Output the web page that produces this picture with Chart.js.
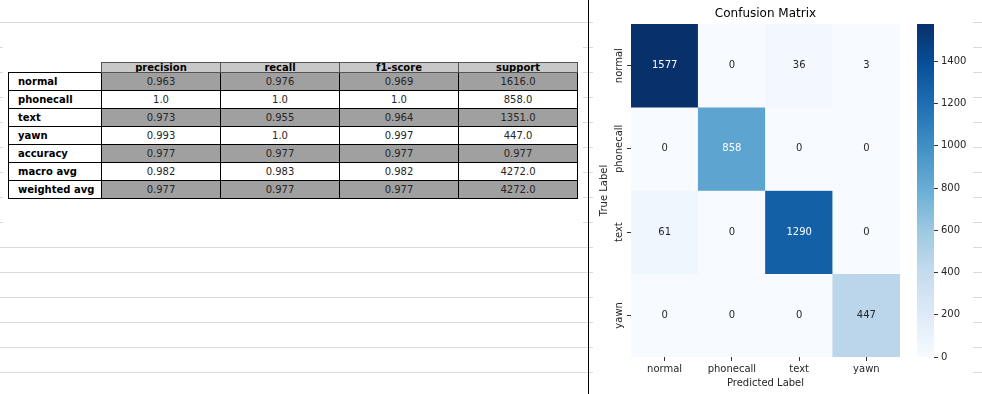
<!DOCTYPE html>
<html>
<head>
<meta charset="utf-8">
<script src="https://cdn.jsdelivr.net/npm/chart.js@4.4.0/dist/chart.umd.min.js"></script>
<style>
  html, body { margin: 0; padding: 0; }
  body {
    width: 982px; height: 394px; position: relative; overflow: hidden;
    background: repeating-linear-gradient(to bottom, #fff 0px, #fff 22px, #d9d9d9 22px, #d9d9d9 23px, #fff 23px, #fff 25px);
    font-family: 'DejaVu Sans', sans-serif;
  }
  .panel { position: absolute; background: #fff; }
  #leftPanel { left: 3px; top: 30px; width: 580px; height: 210px; }
  #rightPanel { left: 593px; top: 0; width: 380px; height: 394px; }
  #divider { position: absolute; left: 588px; top: 0; width: 1px; height: 394px; background: #000; }
  #report {
    position: absolute; left: 8px; top: 62px; width: 570px;
    border-collapse: collapse; table-layout: fixed;
    font-size: 10px; color: #262626;
  }
  #report th {
    height: 9px; line-height: 9px; padding: 0; overflow: hidden;
    background: #c8c8c8; border: 1px solid #555; font-weight: bold; color: #000;
  }
  #report th.corner { background: transparent; border: none; }
  #report td { height: 17px; padding: 0; border: 1px solid #000; text-align: center; }
  #report td.lbl { text-align: left; padding-left: 9px; font-weight: bold; background: #fff; color: #000; }
  #report td.shade { background: #a0a0a0; }
  canvas { position: absolute; top: 0; }
  #cm { left: 593px; }
  #cbar { left: 915px; }
</style>
</head>
<body>
<div class="panel" id="leftPanel"></div>
<div class="panel" id="rightPanel"></div>
<div id="divider"></div>
<table id="report">
  <colgroup><col style="width:93px"><col style="width:119px"><col style="width:119px"><col style="width:119px"><col style="width:119px"></colgroup>
  <tbody id="reportBody"></tbody>
</table>
<canvas id="cm" width="322" height="394"></canvas>
<canvas id="cbar" width="67" height="394"></canvas>
<script>
// classification report
const reportRows = ['normal', 'phonecall', 'text', 'yawn', 'accuracy', 'macro avg', 'weighted avg'];
const reportCols = ['precision', 'recall', 'f1-score', 'support'];
const precision = [0.963, 1, 0.973, 0.993, 0.977, 0.982, 0.977];
const recall = [0.976, 1, 0.955, 1, 0.977, 0.983, 0.977];
const f1Score = [0.969, 1, 0.964, 0.997, 0.977, 0.982, 0.977];
const support = [1616, 858, 1351, 447, 0.977, 4272, 4272];

// confusion matrix (rows = true label, cols = predicted label)
const classLabels = ['normal', 'phonecall', 'text', 'yawn'];
const cmNormal = [1577, 0, 36, 3];
const cmPhonecall = [0, 858, 0, 0];
const cmText = [61, 0, 1290, 0];
const cmYawn = [0, 0, 0, 447];
const cbarTicks = [0, 200, 400, 600, 800, 1000, 1200, 1400];

const cmRows = [cmNormal, cmPhonecall, cmText, cmYawn];
const vmax = Math.max(...cmRows.flat());

Chart.defaults.font.family = "'DejaVu Sans', sans-serif";

function fmt(v) {
  return Number.isInteger(v) ? v.toFixed(1) : String(v);
}

// build the table
const cols = [precision, recall, f1Score, support];
let html = '<tr><th class="corner"></th>' + reportCols.map(c => `<th>${c}</th>`).join('') + '</tr>';
reportRows.forEach((name, i) => {
  const shade = i % 2 === 0 ? 'shade' : '';
  html += `<tr><td class="lbl">${name}</td>` + cols.map(col => `<td class="${shade}">${fmt(col[i])}</td>`).join('') + '</tr>';
});
document.getElementById('reportBody').innerHTML = html;

// matplotlib "Blues"
const bluesStops = ['#f7fbff', '#deebf7', '#c6dbef', '#9ecae1', '#6baed6', '#4292c6', '#2171b5', '#08519c', '#08306b'];
function hexRgb(h) {
  return [1, 3, 5].map(i => parseInt(h.slice(i, i + 2), 16));
}
function bluesRgb(t) {
  t = Math.max(0, Math.min(1, t));
  const p = t * 8;
  const i = Math.min(7, Math.floor(p));
  const f = p - i;
  const a = hexRgb(bluesStops[i]), b = hexRgb(bluesStops[i + 1]);
  return a.map((v, k) => Math.round(v + (b[k] - v) * f));
}
function blues(t) {
  const c = bluesRgb(t);
  return `rgb(${c[0]},${c[1]},${c[2]})`;
}
function lum(t) {
  const c = bluesRgb(t).map(v => {
    v /= 255;
    return v <= 0.03928 ? v / 12.92 : Math.pow((v + 0.055) / 1.055, 2.4);
  });
  return 0.2126 * c[0] + 0.7152 * c[1] + 0.0722 * c[2];
}

const cmText_plugin = {
  id: 'cmText',
  afterDraw(chart) {
    const { ctx, chartArea, scales: { x, y } } = chart;
    ctx.save();
    ctx.textAlign = 'center';
    ctx.textBaseline = 'middle';
    ctx.font = "10px 'DejaVu Sans'";
    cmRows.forEach((row, r) => row.forEach((v, c) => {
      ctx.fillStyle = lum(v / vmax) < 0.408 ? '#ffffff' : '#262626';
      ctx.fillText(String(v), x.getPixelForValue(c), y.getPixelForValue(r + 0.5));
    }));
    // rotated y tick labels
    ctx.fillStyle = '#262626';
    classLabels.forEach((lab, r) => {
      ctx.save();
      ctx.translate(y.right - 12, y.getPixelForValue(r + 0.5));
      ctx.rotate(-Math.PI / 2);
      ctx.fillText(lab, 0, 0);
      ctx.restore();
    });
    ctx.font = "12px 'DejaVu Sans'";
    ctx.fillStyle = '#000';
    ctx.fillText('Confusion Matrix', (chartArea.left + chartArea.right) / 2, 13.5);
    ctx.restore();
  }
};

new Chart(document.getElementById('cm'), {
  type: 'bar',
  data: {
    labels: classLabels,
    datasets: cmRows.map((row, r) => ({
      label: classLabels[r],
      data: row.map(() => [r, r + 1]),
      backgroundColor: row.map(v => blues(v / vmax)),
      borderWidth: 0,
      barPercentage: 1,
      categoryPercentage: 1,
      grouped: false
    }))
  },
  options: {
    responsive: false,
    animation: false,
    layout: { padding: { top: 24, right: 15, left: 0, bottom: 0 } },
    plugins: { legend: { display: false }, tooltip: { enabled: false } },
    scales: {
      x: {
        type: 'category',
        offset: true,
        grid: { offset: false, drawOnChartArea: false, tickLength: 4, tickColor: '#333' },
        border: { display: false },
        ticks: { color: '#262626', font: { size: 10 }, padding: 2, maxRotation: 0 },
        title: { display: true, text: 'Predicted Label', color: '#262626', font: { size: 10 }, padding: { top: 0, bottom: 5 } },
        afterFit: s => { s.height = 37; }
      },
      y: {
        type: 'linear',
        min: 0,
        max: 4,
        reverse: true,
        afterBuildTicks: s => { s.ticks = classLabels.map((_, i) => ({ value: i + 0.5 })); },
        grid: { drawOnChartArea: false, tickLength: 4, tickColor: '#333' },
        border: { display: false },
        ticks: { display: false },
        title: { display: true, text: 'True Label', color: '#262626', font: { size: 10 }, padding: { top: 5, bottom: 0 } },
        afterFit: s => { s.width = 38; }
      }
    }
  },
  plugins: [cmText_plugin]
});

// colorbar
new Chart(document.getElementById('cbar'), {
  type: 'bar',
  data: {
    labels: [''],
    datasets: [{
      data: [[0, vmax]],
      backgroundColor: c => {
        const a = c.chart.chartArea;
        if (!a) return blues(0.5);
        const g = c.chart.ctx.createLinearGradient(0, a.bottom, 0, a.top);
        bluesStops.forEach((s, i) => g.addColorStop(i / 8, s));
        return g;
      },
      borderWidth: 0,
      barPercentage: 1,
      categoryPercentage: 1
    }]
  },
  options: {
    responsive: false,
    animation: false,
    layout: { padding: { top: 24, bottom: 37, left: 2, right: 0 } },
    plugins: { legend: { display: false }, tooltip: { enabled: false } },
    scales: {
      x: { display: false, offset: true },
      y: {
        position: 'right',
        min: 0,
        max: vmax,
        afterBuildTicks: s => { s.ticks = cbarTicks.map(v => ({ value: v })); },
        grid: { drawOnChartArea: false, tickLength: 4, tickColor: '#333' },
        border: { display: false },
        ticks: { color: '#262626', font: { size: 10 }, padding: 3, callback: v => String(v) },
        afterFit: s => { s.width = 48; }
      }
    }
  }
});
</script>
</body>
</html>
